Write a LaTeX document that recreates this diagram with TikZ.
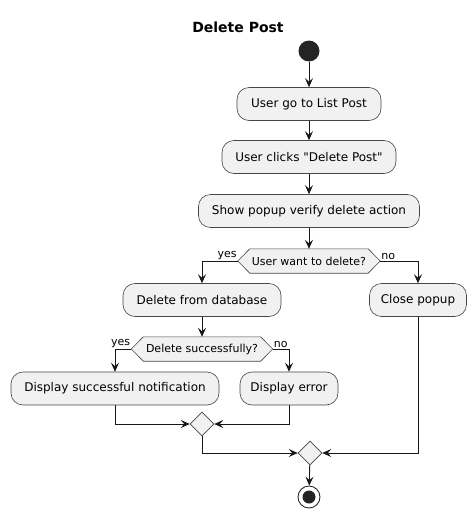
\documentclass[tikz,border=0pt]{standalone}
\usepackage{fontspec}
\setmainfont{DejaVu Sans}[Ligatures=TeXOff]
\usetikzlibrary{shapes.geometric,arrows.meta,calc}
\definecolor{boxfill}{HTML}{F1F1F1}
\definecolor{ink}{HTML}{181818}
\begin{document}
\begin{tikzpicture}[x=1pt,y=-1pt,
  act/.style={draw=ink!80,line width=0.6pt,fill=boxfill,rounded corners=12pt,minimum height=33pt,inner sep=0pt,font=\fontsize{12}{14}\selectfont},
  hexa/.style={minimum height=24pt,inner sep=0pt,font=\fontsize{11}{13}\selectfont},
  merge/.style={draw=ink!80,line width=0.6pt,fill=boxfill,shape=diamond,minimum size=24pt,inner sep=0pt},
  flow/.style={draw=ink,line width=0.9pt,-{Stealth[length=9pt,width=8pt,inset=3.5pt]}},
  lbl/.style={font=\fontsize{11}{13}\selectfont,inner sep=1pt}]
\useasboundingbox (0,0) rectangle (476,517);
\node[font=\bfseries\fontsize{14}{16}\selectfont] (title) at (238,27) {Delete Post};
\node[circle,fill=ink!95,minimum size=21pt,inner sep=0pt] (start) at (309,51) {};
\node[act,minimum width=144pt] (b1) at (309,104) {User go to List Post};
\node[act,minimum width=174pt] (b2) at (309,157) {User clicks "Delete Post"};
\node[act,minimum width=221pt] (b3) at (309,211) {Show popup verify delete action};
\node[hexa,minimum width=142pt] (d1) at (309,261) {User want to delete?};
\draw[draw=ink!80,line width=0.6pt,fill=boxfill] (d1.west) -- ([xshift=12pt]d1.north west) -- ([xshift=-12pt]d1.north east) -- (d1.east) -- ([xshift=-12pt]d1.south east) -- ([xshift=12pt]d1.south west) -- cycle;
\node[hexa,minimum width=142pt] at (d1) {User want to delete?};
\node[act,minimum width=158pt] (db) at (202,300) {Delete from database};
\node[act,minimum width=97pt] (close) at (418,300) {Close popup};
\node[hexa,minimum width=141pt] (d2) at (202,349) {Delete successfully?};
\draw[draw=ink!80,line width=0.6pt,fill=boxfill] (d2.west) -- ([xshift=12pt]d2.north west) -- ([xshift=-12pt]d2.north east) -- (d2.east) -- ([xshift=-12pt]d2.south east) -- ([xshift=12pt]d2.south west) -- cycle;
\node[hexa,minimum width=141pt] at (d2) {Delete successfully?};
\node[act,minimum width=208pt] (succ) at (115,388.5) {Display successful notification};
\node[act,minimum width=98pt] (err) at (289,388.5) {Display error};
\node[merge] (m1) at (202,424) {};
\node[merge] (m2) at (310,453) {};
\node[circle,draw=ink,line width=0.8pt,fill=white,minimum size=22pt,inner sep=0pt] (end) at (309,497) {};
\node[circle,fill=ink!95,minimum size=13pt,inner sep=0pt] at (end) {};
\draw[flow] (start) -- (b1);
\draw[flow] (b1) -- (b2);
\draw[flow] (b2) -- (b3);
\draw[flow] (b3) -- (d1);
\draw[flow] (d1.west) -| (db.north);
\draw[flow] (d1.east) -| (close.north);
\node[lbl,anchor=south east] at (d1.west) {yes};
\node[lbl,anchor=south west] at (d1.east) {no};
\draw[flow] (db) -- (d2);
\draw[flow] (d2.west) -| (succ.north);
\draw[flow] (d2.east) -| (err.north);
\node[lbl,anchor=south east] at (d2.west) {yes};
\node[lbl,anchor=south west] at (d2.east) {no};
\draw[flow] (succ.south) |- (m1.west);
\draw[flow] (err.south) |- (m1.east);
\draw[flow] (m1.south) |- (m2.west);
\draw[flow] (close.south) |- (m2.east);
\draw[flow] (m2) -- (end);
\end{tikzpicture}
\end{document}
